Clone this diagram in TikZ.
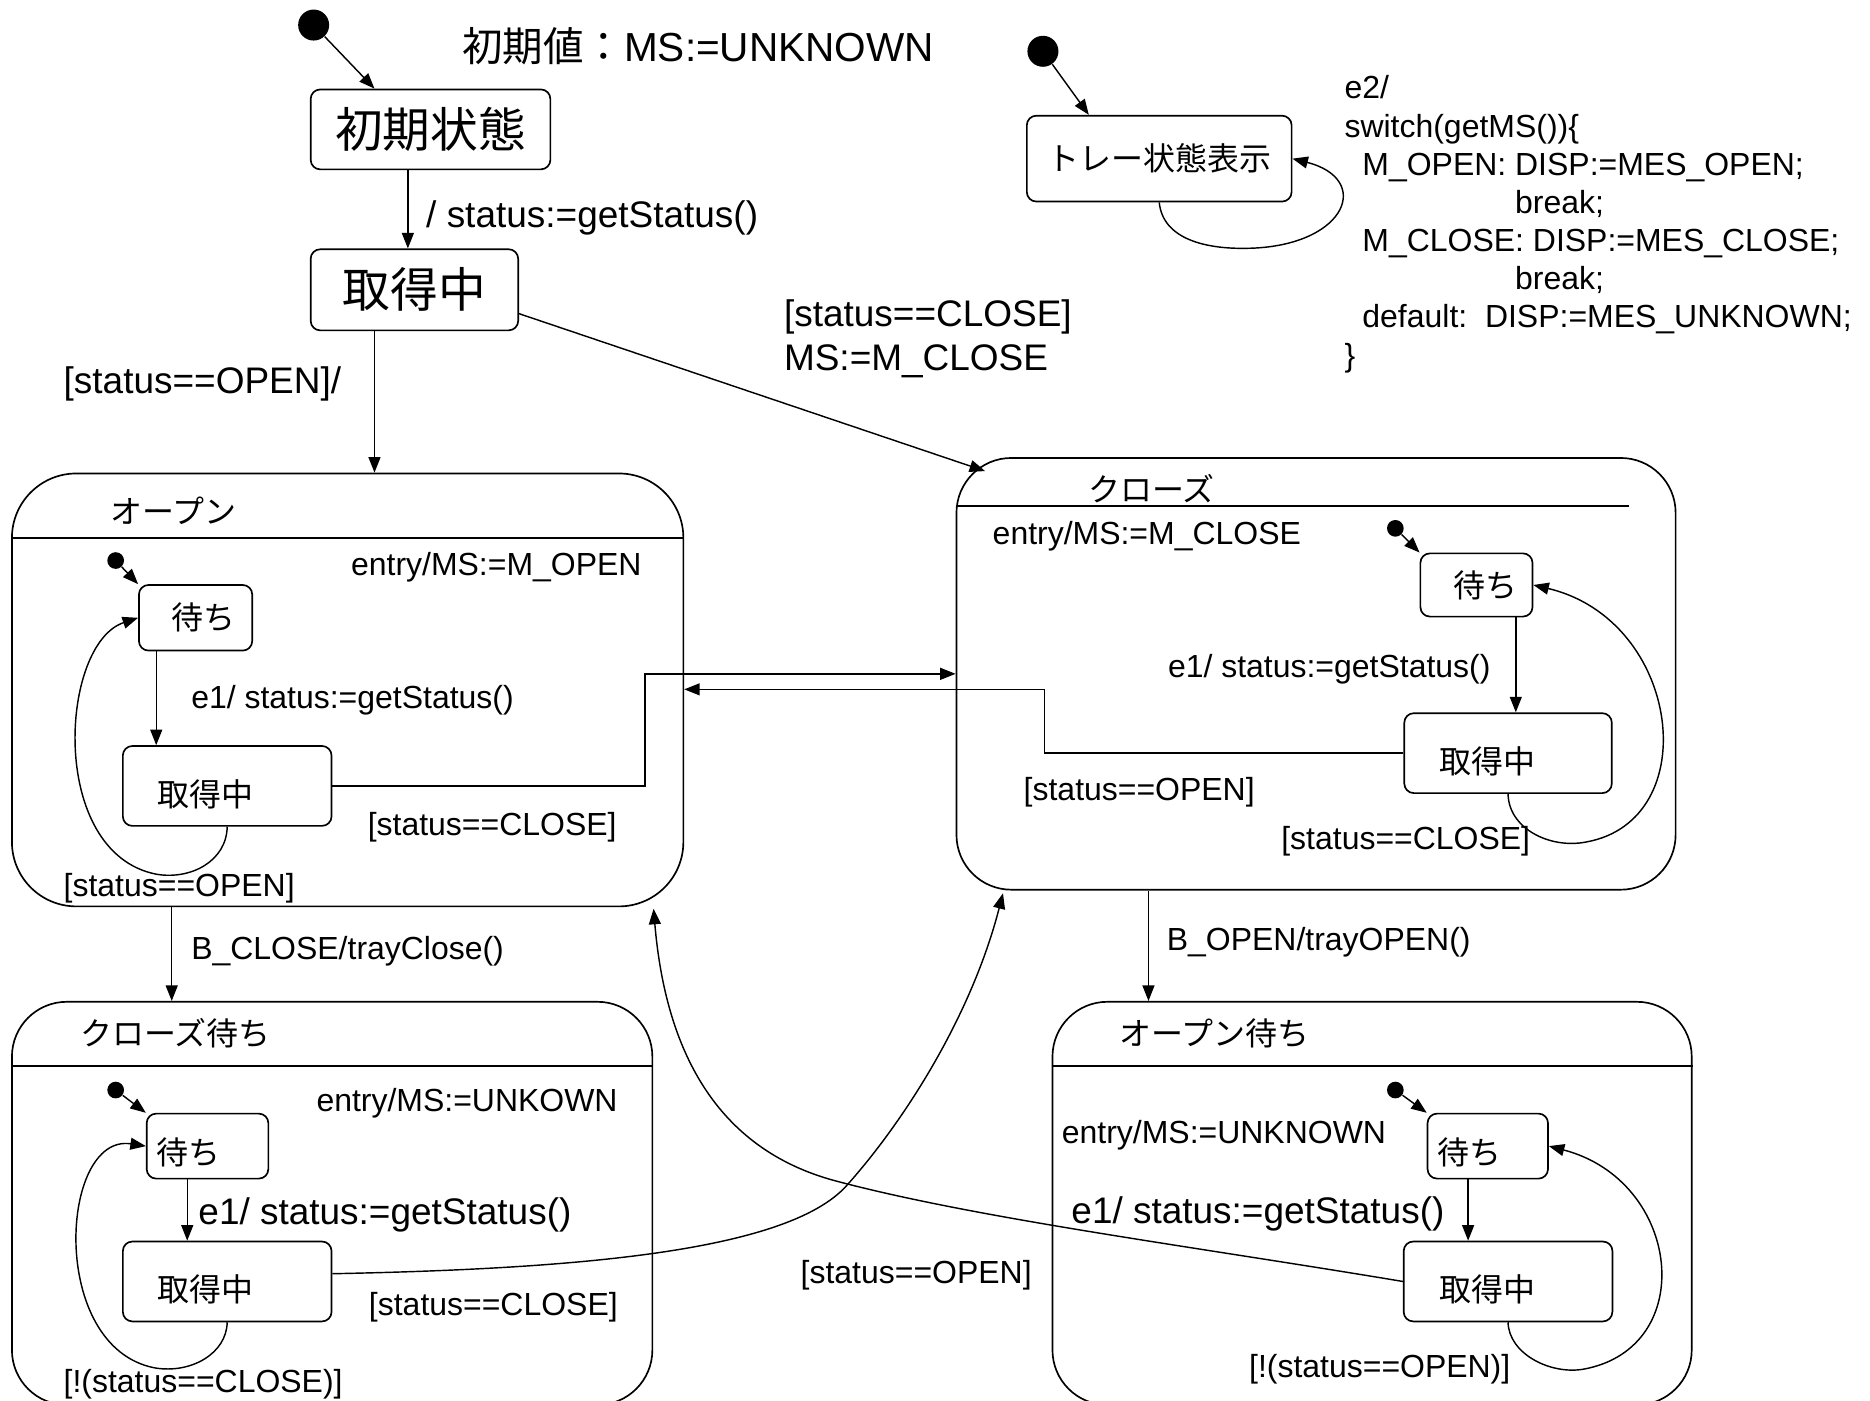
\documentclass[tikz,border=0pt]{standalone}
\usepackage{fontspec}
\setmainfont{Liberation Sans}
\newfontfamily\jp{Noto Sans CJK JP}
\usepackage{tikz}
\usetikzlibrary{arrows.meta}

\newcommand{\fsmall}{\fontsize{13.4}{16}\selectfont}
\newcommand{\fmid}{\fontsize{15.5}{18.5}\selectfont}
\newcommand{\fbig}{\fontsize{17}{20}\selectfont}
\newcommand{\fhuge}{\fontsize{20}{24}\selectfont}
% texto fora do centro da caixa: {dx}{dy}{texto}
\newcommand{\offtxt}[3]{\hspace*{#1}\raisebox{#2}[\height][\depth]{#3}}

\begin{document}
\begin{tikzpicture}[x=0.5pt, y=-0.5pt, font=\fsmall,
  stbox/.style={draw, rounded corners=4pt, line width=0.7pt, inner sep=0pt, font=\fsmall\jp},
  compbox/.style={draw, rounded corners=23pt, line width=0.7pt, inner sep=0pt},
  inidot/.style={circle, fill, inner sep=0pt, minimum size=#1},
  inidot/.default=7pt,
  trans/.style={-{Stealth[inset=0pt, length=6.5pt, width=5pt]}, line width=0.6pt},
  lbl/.style={anchor=west, inner sep=0pt, align=left, font=\fsmall}]
  \useasboundingbox (0,0) rectangle (1568,1174);

  % ---------- estado inicial ----------
  \node[inidot=13pt] (dot0) at (263,21) {};
  \node[lbl, font=\fbig] (initv) at (387,38.5) {{\jp 初期値：}MS:=UNKNOWN};
  \node[stbox, minimum width=100.5pt, minimum height=33.5pt, font=\fhuge\jp] (ini) at (361,108.5) {初期状態};
  \node[stbox, minimum width=87pt, minimum height=34pt, font=\fhuge\jp] (get) at (347.5,243) {取得中};
  \draw[trans] (dot0) -- (ini.north -| 314,0);
  \draw[trans] (ini.south -| 342,0) -- (get.north -| 342,0);
  \node[lbl, font=\fmid] (l1) at (357,183) {/ status:=getStatus()};

  % ---------- トレー状態表示 ----------
  \node[inidot=13pt] (dotT) at (874.5,43) {};
  \node[stbox, minimum width=111pt, minimum height=36pt] (tray) at (972,133) {トレー状態表示};
  \draw[trans] (dotT) -- (tray.north -| 913,0);
  \draw[trans] (tray.south) .. controls (975,200) and (1010,210) .. (1052,208)
    .. controls (1130,204) and (1150,150) .. (tray.east);
  \node[lbl] (code) at (1127,188) {e2/\\
    switch(getMS())\{\\
    \hspace*{7.5pt}M\_OPEN: DISP:=MES\_OPEN;\\
    \hspace*{71.5pt}break;\\
    \hspace*{7.5pt}M\_CLOSE: DISP:=MES\_CLOSE;\\
    \hspace*{71.5pt}break;\\
    \hspace*{7.5pt}default:\ \ DISP:=MES\_UNKNOWN;\\
    \}};

  % ---------- estados compostos ----------
  \node[compbox, rounded corners=27pt, minimum width=281.5pt, minimum height=181.5pt] (open) at (291.5,578.5) {};
  \node[compbox, minimum width=301.5pt, minimum height=181pt] (close) at (1103.5,565) {};
  \node[compbox, minimum width=268.5pt, minimum height=169pt] (cwait) at (278.5,1009) {};
  \node[compbox, minimum width=268pt, minimum height=169pt] (owait) at (1150.5,1009) {};

  \draw[trans] (get.south -| 314,0) -- (open.north -| 314,0);
  \node[lbl, font=\fmid] (l2) at (53,322) {[status==OPEN]/};
  \coordinate (closeTL) at (826,395);
  \draw[trans] (get.east |- 0,263) -- (closeTL);
  \node[lbl, font=\fmid] (l3) at (657,284) {[status==CLOSE]\\MS:=M\_CLOSE};

  % ---------- オープン ----------
  \draw[line width=0.7pt] (open.west |- 0,451) -- (open.east |- 0,451);
  \node[lbl, font=\fsmall\jp] (openT) at (92,428) {オープン};
  \node[lbl] (openE) at (294,476) {entry/MS:=M\_OPEN};
  \node[inidot] (dot1) at (97,470) {};
  \node[stbox, minimum width=47.5pt, minimum height=27.5pt] (wait1) at (164,518) {\offtxt{7pt}{0pt}{待ち}};
  \node[stbox, minimum width=87.5pt, minimum height=33.5pt] (get1) at (190.5,659) {\offtxt{-18pt}{-3.5pt}{取得中}};
  \draw[trans] (dot1) -- (wait1.north west);
  \draw[trans] (wait1.south -| 131,0) -- (get1.north -| 131,0);
  \node[lbl] (e1a) at (160,587) {e1/ status:=getStatus()};
  \draw[trans] (get1.south) .. controls (190,722) and (160,738) .. (131,733)
    .. controls (40,715) and (50,540) .. (wait1.west);
  \node[lbl] (g1a) at (53,745) {[status==OPEN]};
  \node[lbl] (g1b) at (308,694) {[status==CLOSE]};

  % ---------- クローズ ----------
  \draw[line width=0.7pt] (close.west |- 0,424) -- (1366,424);
  \node[lbl, font=\fsmall\jp] (closeT) at (912,410) {クローズ};
  \node[lbl] (closeE) at (832,450) {entry/MS:=M\_CLOSE};
  \node[inidot] (dot2) at (1170,443) {};
  \node[stbox, minimum width=47pt, minimum height=26.5pt] (wait2) at (1238,490.5) {\offtxt{7.5pt}{0pt}{待ち}};
  \node[stbox, minimum width=87pt, minimum height=33.5pt] (get2) at (1264.5,631.5) {\offtxt{-17.5pt}{-3.5pt}{取得中}};
  \draw[trans] (dot2) -- (wait2.north west);
  \draw[trans] (wait2.south -| 1271,0) -- (get2.north -| 1271,0);
  \node[lbl] (e1b) at (979,561) {e1/ status:=getStatus()};
  \draw[trans] (get2.south) .. controls (1265,695) and (1300,712) .. (1330,706)
    .. controls (1430,688) and (1410,520) .. (wait2.east);
  \node[lbl] (g2a) at (1074,705.5) {[status==CLOSE]};
  \node[lbl] (g2b) at (858,664) {[status==OPEN]};

  % as duas ligações em degrau entre オープン e クローズ
  \draw[trans] (get1.east) -- ++(262,0) |- (close.west |- 0,565);
  \draw[trans] (get2.west) -- ++(-301,0) |- (open.east |- 0,578);

  \draw[trans] (open.south -| 144,0) -- (cwait.north -| 144,0);
  \node[lbl] (bc) at (160,798) {B\_CLOSE/trayClose()};
  \draw[trans] (close.south -| 963,0) -- (owait.north -| 963,0);
  \node[lbl] (bo) at (978,790) {B\_OPEN/trayOPEN()};

  % ---------- クローズ待ち ----------
  \draw[line width=0.7pt] (cwait.west |- 0,894) -- (cwait.east |- 0,894);
  \node[lbl, font=\fsmall\jp] (cwaitT) at (67,866.5) {クローズ待ち};
  \node[lbl] (cwaitE) at (265,925) {entry/MS:=UNKOWN};
  \node[inidot] (dot3) at (97,914) {};
  \node[stbox, minimum width=51pt, minimum height=27.25pt] (wait3) at (174,961) {\offtxt{-16pt}{-2.5pt}{待ち}};
  \node[stbox, minimum width=87.5pt, minimum height=33.5pt] (get3) at (190.5,1074.5) {\offtxt{-18pt}{-3.5pt}{取得中}};
  \draw[trans] (dot3) -- (wait3.north west);
  \draw[trans] (wait3.south -| 157,0) -- (get3.north -| 157,0);
  \node[lbl, font=\fmid] (e1c) at (166,1018.5) {e1/ status:=getStatus()};
  \draw[trans] (get3.south) .. controls (190,1135) and (160,1152) .. (130,1147)
    .. controls (40,1130) and (50,950) .. (wait3.west);
  \node[lbl] (g3a) at (53,1161) {[!(status==CLOSE)]};
  \node[lbl] (g3b) at (309,1096) {[status==CLOSE]};

  % ---------- オープン待ち ----------
  \draw[line width=0.7pt] (owait.west |- 0,894) -- (owait.east |- 0,894);
  \node[lbl, font=\fsmall\jp] (owaitT) at (938,866.5) {オープン待ち};
  \node[lbl] (owaitE) at (890,952) {entry/MS:=UNKNOWN};
  \node[inidot] (dot4) at (1170,914) {};
  \node[stbox, minimum width=50.5pt, minimum height=27.25pt] (wait4) at (1247.5,961) {\offtxt{-15.5pt}{-2.5pt}{待ち}};
  \node[stbox, minimum width=87.5pt, minimum height=33.5pt] (get4) at (1264.5,1074.5) {\offtxt{-17.5pt}{-3.5pt}{取得中}};
  \draw[trans] (dot4) -- (wait4.north west);
  \draw[trans] (wait4.south -| 1231,0) -- (get4.north -| 1231,0);
  \node[lbl, font=\fmid] (e1d) at (898,1018) {e1/ status:=getStatus()};
  \draw[trans] (get4.south) .. controls (1265,1135) and (1300,1153) .. (1328,1148)
    .. controls (1425,1130) and (1410,990) .. (wait4.east);
  \node[lbl] (g4a) at (1047,1148) {[!(status==OPEN)]};

  % ---------- transições que se cruzam ----------
  \coordinate (closeBL) at (841,749);
  \coordinate (openBR) at (548,762);
  \draw[trans] (get3.east |- 0,1068) .. controls (480,1064) and (660,1050) .. (710,994)
    .. controls (760,938) and (815,850) .. (closeBL);
  \draw[trans] (get4.west) .. controls (1000,1045) and (820,1022) .. (700,990)
    .. controls (600,963) and (558,880) .. (openBR);
  \node[lbl] (g4b) at (671,1069) {[status==OPEN]};
\end{tikzpicture}
\end{document}
